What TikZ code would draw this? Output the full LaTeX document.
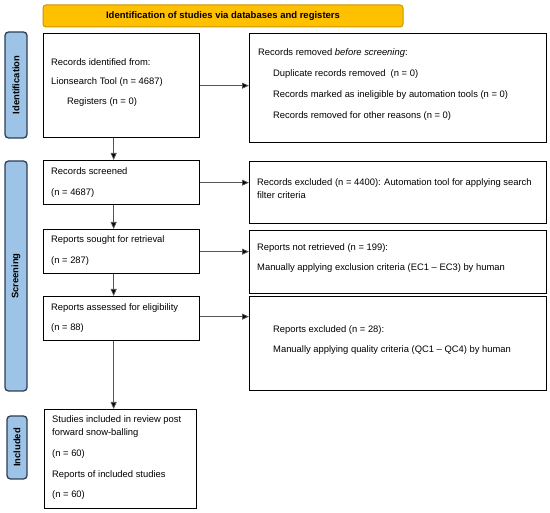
\documentclass[tikz,border=0pt]{standalone}
\usepackage{fontspec}
\setmainfont{Liberation Sans}
\usetikzlibrary{arrows.meta}
\definecolor{bannerfill}{HTML}{FFC000}
\definecolor{bannerline}{HTML}{C99700}
\definecolor{sidefill}{HTML}{9DC3E6}
\definecolor{sideline}{HTML}{2E3F55}
\definecolor{arrline}{HTML}{555555}
\begin{document}
\begin{tikzpicture}[x=1pt,y=-1pt,
  box/.style={draw=black,line width=1.3pt,fill=white,inner sep=0pt,anchor=north west},
  side/.style={draw=sideline,line width=1.3pt,fill=sidefill,rounded corners=3.5pt,inner sep=0pt,
     font=\fontsize{9.4}{11}\selectfont\bfseries},
  txt/.style={anchor=base west,inner sep=0pt,font=\fontsize{9.4}{11}\selectfont},
  arr/.style={draw=arrline,line width=0.8pt,-{Triangle[length=7pt,width=6pt,fill=black]}}]
\useasboundingbox (0,0) rectangle (550,513);
% banner
\node[draw=bannerline,line width=1pt,fill=bannerfill,rounded corners=3pt,
  minimum width=360pt,minimum height=22pt,inner sep=0pt,
  font=\fontsize{9.5}{11}\selectfont\bfseries] (banner) at (223,16)
  {Identification of studies via databases and registers};
% side labels
\node[side,minimum width=22pt,minimum height=106pt] (sid) at (16,85) {\rotatebox{90}{Identification}};
\node[side,minimum width=22pt,minimum height=230pt] (sscr) at (16,276) {\rotatebox{90}{Screening}};
\node[side,minimum width=20pt,minimum height=63pt] (sinc) at (17,447.5) {\rotatebox{90}{Included}};
% left boxes
\node[box,minimum width=156pt,minimum height=104pt] (b1) at (43,33) {};
\node[box,minimum width=156pt,minimum height=44pt] (b2) at (43,160) {};
\node[box,minimum width=156pt,minimum height=44pt] (b3) at (43,229) {};
\node[box,minimum width=156pt,minimum height=44pt] (b4) at (43,296) {};
\node[box,minimum width=152pt,minimum height=99pt] (b5) at (44,409) {};
% right boxes
\node[box,minimum width=297pt,minimum height=109pt] (r1) at (249,33) {};
\node[box,minimum width=297pt,minimum height=62pt] (r2) at (249,161) {};
\node[box,minimum width=297pt,minimum height=63pt] (r3) at (249,230) {};
\node[box,minimum width=297pt,minimum height=94pt] (r4) at (249,296) {};
% left texts
\node[txt] (t1a) at (51,65.5) {Records identified from:};
\node[txt] (t1b) at (51,85) {Lionsearch Tool (n = 4687)};
\node[txt] (t1c) at (67,105) {Registers (n = 0)};
\node[txt] (t2a) at (51,174.5) {Records screened};
\node[txt] (t2b) at (51,195.5) {(n = 4687)};
\node[txt] (t3a) at (51,242.5) {Reports sought for retrieval};
\node[txt] (t3b) at (51,263.5) {(n = 287)};
\node[txt] (t4a) at (51,310.5) {Reports assessed for eligibility};
\node[txt] (t4b) at (51,330.5) {(n = 88)};
\node[txt] (t5a) at (52,422.5) {Studies included in review post};
\node[txt] (t5b) at (52,435.5) {forward snow-balling};
\node[txt] (t5c) at (52,456.5) {(n = 60)};
\node[txt] (t5d) at (52,477.5) {Reports of included studies};
\node[txt] (t5e) at (52,497.5) {(n = 60)};
% right texts
\node[txt] (u1a) at (258,55.5) {Records removed \textit{before screening}:};
\node[txt] (u1b) at (273,76.5) {Duplicate records removed\ \ (n = 0)};
\node[txt] (u1c) at (273,97.5) {Records marked as ineligible by automation tools (n = 0)};
\node[txt] (u1d) at (273,118.5) {Records removed for other reasons (n = 0)};
\node[txt] (u2a) at (257,185.5) {Records excluded (n = 4400): Automation tool for applying search};
\node[txt] (u2b) at (257,198.5) {filter criteria};
\node[txt] (u3a) at (257,250.5) {Reports not retrieved (n = 199):};
\node[txt] (u3b) at (257,270.5) {Manually applying exclusion criteria (EC1 -- EC3) by human};
\node[txt] (u4a) at (273,332.5) {Reports excluded (n = 28):};
\node[txt] (u4b) at (273,352.5) {Manually applying quality criteria (QC1 -- QC4) by human};
% vertical arrows
\draw[arr] ([xshift=-8pt]b1.south) -- ([xshift=-8pt]b2.north);
\draw[arr] ([xshift=-8pt]b2.south) -- ([xshift=-8pt]b3.north);
\draw[arr] ([xshift=-8pt]b3.south) -- ([xshift=-8pt]b4.north);
\draw[arr] ([xshift=-8pt]b4.south) -- ([xshift=-8pt]b4.south |- b5.north);
% horizontal arrows
\draw[arr] (b1.east) -- (b1.east -| r1.west);
\draw[arr] (b2.east) -- (b2.east -| r2.west);
\draw[arr] (b3.east) -- (b3.east -| r3.west);
\draw[arr] ([yshift=2pt]b4.east) -- ([yshift=2pt]b4.east -| r4.west);
\end{tikzpicture}
\end{document}
